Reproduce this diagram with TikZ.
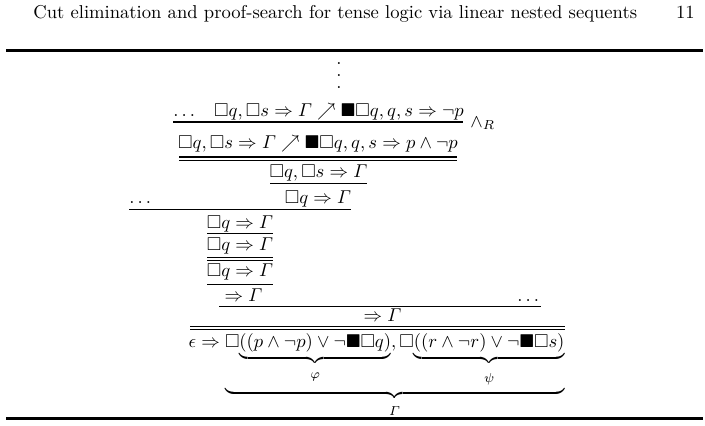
\documentclass[tikz,border=0pt]{standalone}
\usepackage{amsmath,amssymb}
\newcommand\lowlab[2]{\vbox{\kern#1\hbox{$\scriptstyle#2$}}}
\begin{document}
\begin{tikzpicture}[x=0.5376pt,y=-0.5376pt,
  seq/.style={inner sep=0pt,anchor=base},
  lft/.style={inner sep=0pt,anchor=base west},
  infer/.style={line width=0.55pt},
  hrule/.style={line width=1.2pt}]
\useasboundingbox (0,0) rectangle (705,425);
% running head
\node[lft] (title) at (33,18) {Cut elimination and proof-search for tense logic via linear nested sequents};
\node[seq,anchor=base east] (page) at (695,18) {11};
\draw[hrule] (6,50.5) -- (703,50.5);
\draw[hrule] (6,418.5) -- (703,418.5);
% proof tree
\node[seq] (dots) at (339,88) {\vbox{\baselineskip=6.2pt\lineskiplimit=0pt\hbox{.}\hbox{.}\hbox{.}}};
\node[lft] (e1) at (173,116) {$\ldots$};
\node[seq] (s1) at (339,116) {$\Box q,\Box s\Rightarrow \varGamma\nearrow\blacksquare\Box q,q,s\Rightarrow\neg p$};
\draw[infer] (173,122) -- (463,122);
\node[lft] (lab) at (470,127) {$\wedge_R$};
\node[seq] (s2) at (318,148) {$\Box q,\Box s\Rightarrow \varGamma\nearrow\blacksquare\Box q,q,s\Rightarrow p\wedge\neg p$};
\draw[infer] (179,157) -- (457,157) (179,160) -- (457,160);
\node[seq] (s3) at (318.5,177) {$\Box q,\Box s\Rightarrow\varGamma$};
\draw[infer] (270,183) -- (367,183);
\node[lft] (e2) at (129,203) {$\ldots$};
\node[seq] (s4) at (318,203) {$\Box q\Rightarrow\varGamma$};
\draw[infer] (129,209) -- (351,209);
\node[seq] (s5) at (240,228) {$\Box q\Rightarrow\varGamma$};
\draw[infer] (207,233) -- (273,233);
\node[seq] (s6) at (240,250) {$\Box q\Rightarrow\varGamma$};
\draw[infer] (207,257) -- (273,257) (207,260) -- (273,260);
\node[seq] (s7) at (240,276) {$\Box q\Rightarrow\varGamma$};
\draw[infer] (207,284) -- (273,284);
\node[seq] (s8) at (243.5,301) {$\Rightarrow\varGamma$};
\node[lft] (e3) at (517,301) {$\ldots$};
\draw[infer] (219,306) -- (541,306);
\node[seq] (s9) at (382.5,321) {$\Rightarrow\varGamma$};
\draw[infer] (190,326) -- (565,326) (190,329) -- (565,329);
\node[seq] (s10) at (376.5,347) {$\epsilon\Rightarrow{\underbrace{\Box{\underbrace{((p\wedge\neg p)\vee\neg\blacksquare\Box q)}_{\lowlab{2.7pt}{\varphi}}},\Box{\underbrace{((r\wedge\neg r)\vee\neg\blacksquare\Box s)}_{\lowlab{2.7pt}{\psi}}}}_{\lowlab{2.1pt}{\varGamma}}}$};
\end{tikzpicture}
\end{document}
